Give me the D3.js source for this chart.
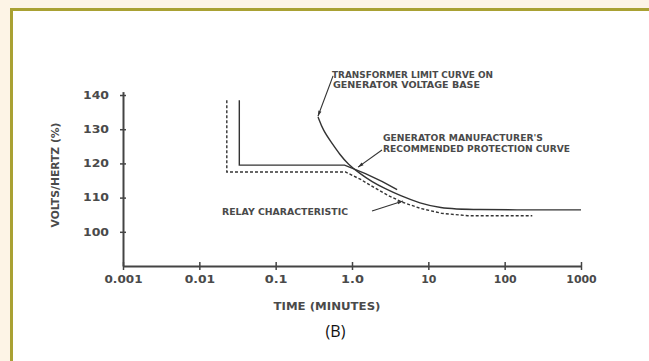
<!DOCTYPE html>
<html>
<head>
<meta charset="utf-8">
<script src="https://cdn.jsdelivr.net/npm/d3@7"></script>
<style>
  html, body { margin: 0; padding: 0; background: #fdf4e6; overflow: hidden; }
  svg { display: block; }
  .cad { font-family: "DejaVu Sans", sans-serif; font-weight: bold; fill: #4a4a4a; }
</style>
</head>
<body>
<svg id="chart" width="649" height="361"></svg>
<script>
// ticks
const xTicks = [0.001, 0.01, 0.1, 1, 10, 100, 1000];
const xTickLabels = ["0.001", "0.01", "0.1", "1.0", "10", "100", "1000"];
const yTicks = [100, 110, 120, 130, 140];

// [time (minutes), volts/hertz %]
const transformerLimit = [
  [0.359, 133.6], [0.42, 129.6], [0.531, 126.3], [0.697, 122.5], [0.887, 119.8], [1.27, 117.0],
  [1.83, 114.6], [2.71, 112.6], [4.25, 110.6], [7.78, 108.3], [14.2, 107.0], [30.3, 106.4], [1000, 106.4]
];
const manufacturerCurve = [
  [0.0334, 138.5], [0.0334, 119.5], [0.8, 119.5], [1.5, 117], [2.5, 114.7], [3.9, 112.3]
];
const relayCharacteristic = [
  [0.0229, 138.5], [0.0229, 117.5], [0.82, 117.5], [1.3, 115.3], [2, 112.8], [3, 110.6], [4.5, 108.7],
  [8, 106.8], [15, 105.4], [33, 104.7], [230, 104.7]
];

// annotation leaders: [from, to]
const leaders = [
  [[0.565, 145.6], [0.358, 133.8]],
  [[2.47, 123.9], [1.2, 118.9]],
  [[1.83, 106.1], [4.66, 109.0]]
];

const svg = d3.select("#chart");

// page frame
svg.append("rect").attr("width", 649).attr("height", 361).attr("fill", "#fdf4e6");
svg.append("rect").attr("x", 10).attr("y", 8).attr("width", 639).attr("height", 353).attr("fill", "#fff");
svg.append("path").attr("d", "M11.5,361 V9.5 H649").attr("fill", "none").attr("stroke", "#a9a133").attr("stroke-width", 3);

const x = d3.scaleLog().domain([0.001, 1000]).range([123, 581]);
const y = d3.scaleLinear().domain([90, 140]).range([266, 95]);

svg.append("defs").append("marker")
  .attr("id", "arr")
  .attr("viewBox", "0 0 10 10")
  .attr("refX", 10).attr("refY", 5)
  .attr("markerWidth", 7).attr("markerHeight", 5)
  .attr("orient", "auto")
  .append("path").attr("d", "M0,2 L10,5 L0,8 Z").attr("fill", "#333");

// x axis
const xAxis = svg.append("g")
  .attr("transform", `translate(0,${y(90)})`)
  .call(d3.axisBottom(x).tickValues(xTicks).tickFormat((d, i) => xTickLabels[i]).tickSize(4).tickSizeOuter(0).tickPadding(6));
xAxis.select(".domain").attr("stroke", "#444").attr("stroke-width", 2);
xAxis.selectAll(".tick line").attr("y1", -4).attr("stroke", "#444").attr("stroke-width", 1.5);
xAxis.selectAll(".tick text").attr("class", "cad").style("font-size", "10px")
  .attr("textLength", function(d, i) { return xTickLabels[i].length * 7.6; })
  .attr("lengthAdjust", "spacingAndGlyphs");

// y axis
const yAxis = svg.append("g")
  .attr("transform", `translate(${x(0.001)},0)`)
  .call(d3.axisLeft(d3.scaleLinear().domain([90, 141]).range([266, 91.6])).tickValues(yTicks).tickSize(3).tickSizeOuter(0).tickPadding(11));
yAxis.select(".domain").attr("stroke", "#444").attr("stroke-width", 2);
yAxis.selectAll(".tick line").attr("x2", 3).attr("x1", -3).attr("stroke", "#444").attr("stroke-width", 1.5);
yAxis.selectAll(".tick text").attr("class", "cad").style("font-size", "10px")
  .attr("textLength", 26).attr("lengthAdjust", "spacingAndGlyphs");

// curves
const line = d3.line().x(d => x(d[0])).y(d => y(d[1]));
const smooth = d3.line().x(d => x(d[0])).y(d => y(d[1])).curve(d3.curveBasis);

svg.append("path").datum(transformerLimit)
  .attr("d", smooth)
  .attr("fill", "none").attr("stroke", "#333").attr("stroke-width", 1.4);

svg.append("path").datum(manufacturerCurve)
  .attr("d", line)
  .attr("fill", "none").attr("stroke", "#333").attr("stroke-width", 1.4);

svg.append("path").datum(relayCharacteristic)
  .attr("d", line)
  .attr("fill", "none").attr("stroke", "#333").attr("stroke-width", 1.4)
  .attr("stroke-dasharray", "3,2");

// leaders
svg.selectAll(".leader").data(leaders).join("line")
  .attr("class", "leader")
  .attr("x1", d => x(d[0][0])).attr("y1", d => y(d[0][1]))
  .attr("x2", d => x(d[1][0])).attr("y2", d => y(d[1][1]))
  .attr("stroke", "#333").attr("stroke-width", 1.1)
  .attr("marker-end", "url(#arr)");

// annotation text
function note(tx, ty, str, len) {
  svg.append("text").attr("class", "cad")
    .attr("x", tx).attr("y", ty)
    .style("font-size", "8px")
    .attr("textLength", len).attr("lengthAdjust", "spacingAndGlyphs")
    .text(str);
}
note(332, 78, "TRANSFORMER LIMIT CURVE ON", 161);
note(333, 88, "GENERATOR VOLTAGE BASE", 147);
note(383, 141, "GENERATOR MANUFACTURER'S", 160);
note(383, 152, "RECOMMENDED PROTECTION CURVE", 187);
note(222, 215, "RELAY CHARACTERISTIC", 126);

// axis titles
svg.append("text").attr("class", "cad")
  .attr("x", 327).attr("y", 310).attr("text-anchor", "middle")
  .style("font-size", "10px")
  .attr("textLength", 107).attr("lengthAdjust", "spacingAndGlyphs")
  .text("TIME (MINUTES)");

svg.append("text").attr("class", "cad")
  .attr("transform", "translate(59,175) rotate(-90)")
  .attr("text-anchor", "middle")
  .style("font-size", "10px")
  .attr("textLength", 105).attr("lengthAdjust", "spacingAndGlyphs")
  .text("VOLTS/HERTZ (%)");

svg.append("text")
  .attr("x", 335.5).attr("y", 337).attr("text-anchor", "middle")
  .style("font-family", "'Open Sans', sans-serif").style("font-size", "16px").attr("fill", "#111")
  .text("(B)");
</script>
</body>
</html>
